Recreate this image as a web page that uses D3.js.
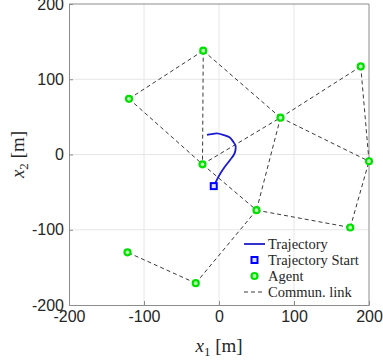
<!DOCTYPE html>
<html>
<head>
<meta charset="utf-8">
<script src="https://cdn.jsdelivr.net/npm/d3@7"></script>
<style>
  body { margin: 0; background: #fff; }
  svg { display: block; }
</style>
</head>
<body>
<div id="chart"></div>
<script>
// agent positions [m]
const agentX = [-21, -120, 189, 82, 200, -22, 50, 175, -122, -31];
const agentY = [138, 74, 117, 49, -9, -13, -74, -97, -130, -171];

// communication links (agent index pairs)
const links = [
  [1, 0], [1, 5], [0, 5], [0, 3], [5, 3], [3, 2], [3, 4], [2, 4],
  [3, 6], [5, 6], [6, 7], [7, 4], [6, 9], [9, 8]
];

// trajectory samples
const trajX = [-7, -3, 2, 8, 15, 20, 22, 22, 19, 14, 6, -3, -10, -16];
const trajY = [-42, -34, -25, -16, -7, 0, 6, 12, 17, 23, 26, 28, 27, 26];

const xTicks = [-200, -100, 0, 100, 200];
const yTicks = [-200, -100, 0, 100, 200];

const width = 383, height = 360;
const margin = { left: 69, right: 14, top: 4, bottom: 55 };

const svg = d3.select('#chart').append('svg')
  .attr('width', width)
  .attr('height', height);

const x = d3.scaleLinear().domain([-200, 200]).range([margin.left, width - margin.right]);
const y = d3.scaleLinear().domain([-200, 200]).range([height - margin.bottom, margin.top]);

// grid
const grid = svg.append('g');
grid.selectAll('.gx').data(xTicks.slice(1, -1)).enter().append('line')
  .attr('x1', d => x(d)).attr('x2', d => x(d))
  .attr('y1', y(-200)).attr('y2', y(200))
  .attr('stroke', '#e6e6e6').attr('stroke-width', 1);
grid.selectAll('.gy').data(yTicks.slice(1, -1)).enter().append('line')
  .attr('y1', d => y(d)).attr('y2', d => y(d))
  .attr('x1', x(-200)).attr('x2', x(200))
  .attr('stroke', '#e6e6e6').attr('stroke-width', 1);

// axes (plain hyphen minus like the original)
const fmt = d => String(d);
const xAxis = svg.append('g')
  .attr('transform', `translate(0,${y(-200)})`)
  .call(d3.axisBottom(x).tickValues(xTicks).tickFormat(fmt).tickSize(-4).tickPadding(6));
const yAxis = svg.append('g')
  .attr('transform', `translate(${x(-200)},0)`)
  .call(d3.axisLeft(y).tickValues(yTicks).tickFormat(fmt).tickSize(-4).tickPadding(5));
[xAxis, yAxis].forEach(a => {
  a.select('.domain').attr('stroke', '#8c8c8c');
  a.selectAll('.tick line').attr('stroke', '#8c8c8c');
  a.selectAll('.tick text')
    .attr('fill', '#262626')
    .style('font-family', '"Liberation Sans", Arial, sans-serif')
    .style('font-size', '16px');
});

// top/right box
svg.append('line').attr('x1', x(-200)).attr('x2', x(200)).attr('y1', y(200)).attr('y2', y(200))
  .attr('stroke', '#8c8c8c');
svg.append('line').attr('x1', x(200)).attr('x2', x(200)).attr('y1', y(200)).attr('y2', y(-200))
  .attr('stroke', '#8c8c8c');

// links
svg.append('g').selectAll('line').data(links).enter().append('line')
  .attr('x1', d => x(agentX[d[0]])).attr('y1', d => y(agentY[d[0]]))
  .attr('x2', d => x(agentX[d[1]])).attr('y2', d => y(agentY[d[1]]))
  .attr('stroke', '#3a3a3a')
  .attr('stroke-width', 1)
  .attr('stroke-dasharray', '4,3');

// trajectory
const line = d3.line().x(d => x(d[0])).y(d => y(d[1])).curve(d3.curveCatmullRom);
svg.append('path')
  .datum(trajX.map((v, i) => [v, trajY[i]]))
  .attr('d', line)
  .attr('fill', 'none')
  .attr('stroke', '#1a1ad0')
  .attr('stroke-width', 1.8);

// trajectory start
svg.append('rect')
  .attr('x', x(trajX[0]) - 3).attr('y', y(trajY[0]) - 3)
  .attr('width', 6).attr('height', 6)
  .attr('fill', '#dde0ff')
  .attr('stroke', '#0000ff')
  .attr('stroke-width', 2);

// agents
svg.append('g').selectAll('circle').data(agentX).enter().append('circle')
  .attr('cx', d => x(d))
  .attr('cy', (d, i) => y(agentY[i]))
  .attr('r', 3)
  .attr('fill', '#b8ffb0')
  .attr('stroke', '#00e000')
  .attr('stroke-width', 2.2);

// axis labels
const serif = '"Liberation Serif", "DejaVu Serif", serif';
const xl = svg.append('text')
  .attr('x', x(0)).attr('y', 352)
  .attr('text-anchor', 'middle')
  .style('font-family', serif).style('font-size', '19px').attr('fill', '#262626');
xl.append('tspan').style('font-style', 'italic').text('x');
xl.append('tspan').attr('dy', 4).style('font-size', '13px').text('1');
xl.append('tspan').attr('dy', -4).text(' [m]');

const yl = svg.append('text')
  .attr('transform', `translate(24,${y(0)}) rotate(-90)`)
  .attr('text-anchor', 'middle')
  .style('font-family', serif).style('font-size', '19px').attr('fill', '#262626');
yl.append('tspan').style('font-style', 'italic').text('x');
yl.append('tspan').attr('dy', 4).style('font-size', '13px').text('2');
yl.append('tspan').attr('dy', -4).text(' [m]');

// legend
const legendItems = ['Trajectory', 'Trajectory Start', 'Agent', 'Commun. link'];
const lg = svg.append('g').attr('transform', 'translate(244,244)');
const item = lg.selectAll('g').data(legendItems).enter().append('g')
  .attr('transform', (d, i) => `translate(0,${i * 16})`);
item.append('text')
  .attr('x', 24).attr('y', 4.5)
  .style('font-family', serif).style('font-size', '14.5px')
  .attr('fill', '#262626')
  .text(d => d);
item.filter((d, i) => i === 0).append('line')
  .attr('x1', 0).attr('x2', 21).attr('y1', 0).attr('y2', 0)
  .attr('stroke', '#1a1ad0').attr('stroke-width', 1.8);
item.filter((d, i) => i === 1).append('rect')
  .attr('x', 7.5).attr('y', -3).attr('width', 6).attr('height', 6)
  .attr('fill', '#dde0ff').attr('stroke', '#0000ff').attr('stroke-width', 2);
item.filter((d, i) => i === 2).append('circle')
  .attr('cx', 10.5).attr('cy', 0).attr('r', 3)
  .attr('fill', '#b8ffb0').attr('stroke', '#00e000').attr('stroke-width', 2.2);
item.filter((d, i) => i === 3).append('line')
  .attr('x1', 0).attr('x2', 21).attr('y1', 0).attr('y2', 0)
  .attr('stroke', '#3a3a3a').attr('stroke-width', 1).attr('stroke-dasharray', '4,3');
</script>
</body>
</html>
